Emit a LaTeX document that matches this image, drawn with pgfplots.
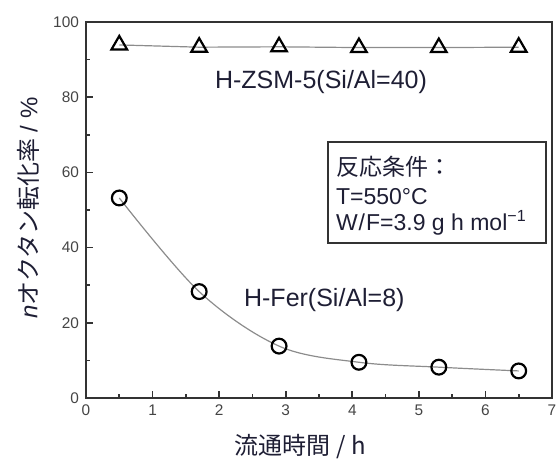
\documentclass[border=0pt]{standalone}
\usepackage{fontspec}
\setmainfont{Liberation Sans}
\newfontfamily\cjk{Noto Sans CJK JP}
\usepackage{pgfplots}
\pgfplotsset{compat=1.18}
\definecolor{txt}{HTML}{1E1E34}
\definecolor{ticktxt}{HTML}{444444}
\definecolor{frame}{HTML}{333333}
\definecolor{conn}{HTML}{8C8C8C}
\begin{document}
\begin{tikzpicture}
\path[use as bounding box] (-43pt,-33.5pt) rectangle (235pt,199pt);
\begin{axis}[
  scale only axis,
  width=233pt, height=188pt,
  xmin=0, xmax=7, ymin=0, ymax=100,
  xtick={0,1,...,7}, ytick={0,20,...,100},
  minor x tick num=1, minor y tick num=1,
  xtick pos=bottom, ytick pos=left,
  tick align=inside,
  major tick length=3.5pt, minor tick length=2pt,
  every tick/.style={line width=0.8pt, frame},
  axis line style={line width=1pt, frame},
  /pgf/number format/assume math mode=true,
  tick label style={font=\fontsize{7.7}{9}\selectfont, text=ticktxt},
  xlabel={\cjk 流通時間 / h},
  ylabel={\textit{n}{\cjk オクタン転化率} / \%},
  xlabel style={at={(axis description cs:0.46,-0.13)}, anchor=center, font=\fontsize{12}{14}\selectfont, text=txt},
  ylabel style={at={(axis description cs:-0.124,0.505)}, anchor=center, rotate=0, font=\fontsize{12}{14}\selectfont, text=txt},
  clip=false,
]
% H-ZSM-5
\addplot[conn, line width=0.6pt, mark=triangle, mark size=4.5pt,
  mark options={black, line width=1.1pt, fill=white}]
  coordinates {(0.5,93.9) (1.7,93.3) (2.9,93.4) (4.1,93.2) (5.3,93.2) (6.5,93.3)};
% H-Fer
\addplot[conn, line width=0.6pt, smooth, tension=0.55, mark=o, mark size=3.7pt,
  mark options={black, line width=1.1pt}]
  coordinates {(0.5,53.2) (1.7,28.3) (2.9,13.8) (4.1,9.5) (5.3,8.2) (6.5,7.2)};
\node[text=txt, font=\fontsize{12.5}{14}\selectfont] at (axis cs:3.53,84) {H-ZSM-5(Si/Al=40)};
\node[text=txt, font=\fontsize{12.5}{14}\selectfont] at (axis cs:3.58,26) {H-Fer(Si/Al=8)};
\draw[frame, line width=1pt] (axis cs:3.63,41.2) rectangle (axis cs:6.91,68.1);
\node[anchor=west, text=txt, font=\fontsize{11.5}{13}\selectfont, inner sep=0pt] at (axis cs:3.75,61.4) {\cjk 反応条件：};
\node[anchor=west, text=txt, font=\fontsize{11.5}{13}\selectfont, inner sep=0pt] at (axis cs:3.75,53.5) {T=550°C};
\node[anchor=west, text=txt, font=\fontsize{11.5}{13}\selectfont, inner sep=0pt] at (axis cs:3.75,46.5) {W\kern0.5pt/\kern0.5pt F=3.9 g h mol\textsuperscript{−1}};
\end{axis}
\end{tikzpicture}
\end{document}
